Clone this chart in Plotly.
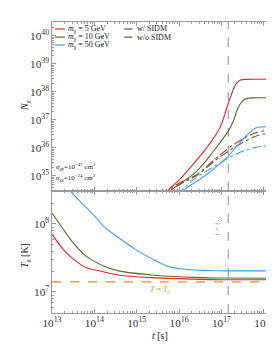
import numpy as np
import plotly.graph_objects as go
from plotly.subplots import make_subplots

# ---------------- data (log10 values) ----------------
# number of captured DM particles N_chi vs time
t_red_sidm = [15.6, 15.72, 16.0, 16.26, 16.65, 16.96, 17.12, 17.22, 17.35, 17.45, 17.6, 18.17]
N_red_sidm = [34.2, 34.46, 34.85, 35.29, 36.0, 36.71, 37.4, 37.85, 38.3, 38.43, 38.45, 38.45]

t_grn_sidm = [15.7, 15.8, 16.1, 16.42, 16.81, 17.16, 17.28, 17.39, 17.5, 17.6, 17.75, 18.17]
N_grn_sidm = [34.2, 34.46, 34.8, 35.17, 35.88, 36.6, 36.95, 37.43, 37.68, 37.77, 37.79, 37.79]

t_blu_sidm = [15.95, 16.07, 16.65, 17.12, 17.5, 17.81, 17.95, 18.17]
N_blu_sidm = [34.25, 34.45, 35.05, 35.64, 36.3, 36.71, 36.75, 36.75]

t_red_nosidm = [15.6, 15.72, 16.05, 16.42, 16.88, 17.35, 17.81, 18.17]
N_red_nosidm = [34.25, 34.46, 34.78, 35.05, 35.64, 36.18, 36.54, 36.65]

t_grn_nosidm = [15.6, 15.78, 16.1, 16.42, 16.88, 17.35, 17.81, 18.17]
N_grn_nosidm = [34.2, 34.46, 34.76, 35.02, 35.58, 36.06, 36.42, 36.54]

t_blu_nosidm = [15.95, 16.34, 16.65, 17.12, 17.5, 17.81, 18.0, 18.17]
N_blu_nosidm = [34.3, 34.87, 35.17, 35.6, 35.88, 36.02, 36.06, 36.06]

# DM temperature T_chi vs time
t_T_red = [13.0, 13.26, 13.49, 13.8, 14.19, 14.57, 15.35, 15.77, 16.5, 17.0, 18.17]
T_red = [7.85, 7.63, 7.49, 7.36, 7.30, 7.25, 7.21, 7.20, 7.185, 7.18, 7.18]

t_T_grn = [13.0, 13.26, 13.49, 13.8, 14.19, 14.57, 15.35, 15.77, 16.5, 17.0, 18.17]
T_grn = [8.16, 7.93, 7.73, 7.53, 7.39, 7.31, 7.25, 7.23, 7.21, 7.205, 7.20]

t_T_blu = [13.0, 13.46, 14.09, 14.19, 14.57, 14.96, 15.35, 15.77, 16.2, 16.7, 17.2, 18.17]
T_blu = [8.84, 8.47, 8.06, 7.98, 7.80, 7.63, 7.49, 7.37, 7.33, 7.315, 7.31, 7.31]

T_C = 10.0 ** 7.147        # core temperature line
T_SUN = 10.0 ** 17.16      # age of the Sun [s]

# axis ranges (log10)
X_RANGE = [13, 18.17]
N_RANGE = [34.46, 40.5]
T_RANGE = [6.69, 8.485]

masses = ["5 GeV", "10 GeV", "50 GeV"]
colors = ["#e8262a", "#5a6b2b", "#3f9dff"]
FONT = "Liberation Serif"
AX = "#9a9a9a"

# ---------------- figure ----------------
fig = make_subplots(rows=2, cols=1, shared_xaxes=True, vertical_spacing=0,
                    row_heights=[169, 122])

def p(v):
    return [10.0 ** a for a in v]

top_solid = [(t_red_sidm, N_red_sidm), (t_grn_sidm, N_grn_sidm), (t_blu_sidm, N_blu_sidm)]
top_dd = [(t_red_nosidm, N_red_nosidm), (t_grn_nosidm, N_grn_nosidm), (t_blu_nosidm, N_blu_nosidm)]
bottom = [(t_T_red, T_red), (t_T_grn, T_grn), (t_T_blu, T_blu)]

# reference lines (drawn first, underneath)
fig.add_trace(go.Scatter(x=[T_SUN, T_SUN], y=p(N_RANGE), mode="lines",
                         line=dict(color="#8a9ab2", width=1.1, dash="dash"),
                         name="t = t_sun", showlegend=False), row=1, col=1)
fig.add_trace(go.Scatter(x=[T_SUN, T_SUN], y=p(T_RANGE), mode="lines",
                         line=dict(color="#8a9ab2", width=1.1, dash="dash"),
                         name="t = t_sun", showlegend=False), row=2, col=1)
fig.add_trace(go.Scatter(x=p(X_RANGE), y=[T_C, T_C], mode="lines",
                         line=dict(color="#f7852e", width=1.2, dash="dash"),
                         name="T = T_c", showlegend=False), row=2, col=1)

for i, c in enumerate(colors):
    t, n = top_dd[i]
    fig.add_trace(go.Scatter(x=p(t), y=p(n), mode="lines", line_shape="spline",
                             line=dict(color=c, width=1.1, dash="dashdot"),
                             name=f"w/o SIDM {masses[i]}", showlegend=False), row=1, col=1)
for i, c in enumerate(colors):
    t, n = top_solid[i]
    fig.add_trace(go.Scatter(x=p(t), y=p(n), mode="lines", line_shape="spline",
                             line=dict(color=c, width=1.1),
                             name=f"w/ SIDM {masses[i]}", showlegend=False), row=1, col=1)
for i, c in enumerate(colors):
    t, T = bottom[i]
    fig.add_trace(go.Scatter(x=p(t), y=p(T), mode="lines", line_shape="spline",
                             line=dict(color=c, width=1.1),
                             name=masses[i], showlegend=False), row=2, col=1)

axis_common = dict(type="log", showline=True, linecolor=AX, linewidth=1, mirror="ticks",
                   ticks="inside", ticklen=4, tickcolor=AX, showgrid=False, zeroline=False,
                   tickmode="linear", tick0=0, dtick=1, exponentformat="power",
                   ticklabeloverflow="allow",
                   minor=dict(ticks="inside", ticklen=2, tickcolor=AX, showgrid=False, dtick="D1"),
                   tickfont=dict(family=FONT, size=9, color="#333"))

fig.update_xaxes(**axis_common, range=X_RANGE)
fig.update_xaxes(showticklabels=False, row=1, col=1)
fig.update_yaxes(**axis_common)
fig.update_yaxes(range=N_RANGE, row=1, col=1)
fig.update_yaxes(range=T_RANGE, row=2, col=1)

ann = []
def A(text, x, y, size=9, color="#222", xanchor="left", xref="paper", yref="paper", angle=0):
    ann.append(dict(text=text, x=x, y=y, xref=xref, yref=yref, xanchor=xanchor, yanchor="middle",
                    showarrow=False, textangle=angle, font=dict(family=FONT, size=size, color=color)))

# axis titles
A("<i>N</i><sub>χ</sub>", -0.118, 0.715, size=10, xanchor="center", angle=-90)
A("<i>T</i><sub>χ</sub> [K]", -0.118, 0.196, size=10, xanchor="center", angle=-90)
A("<i>t</i> [s]", 0.493, -0.079, size=10, xanchor="center")

# legend (drawn manually)
rows_y = [0.976, 0.948, 0.921]
for i, c in enumerate(colors):
    fig.add_shape(type="line", xref="paper", yref="paper", x0=0.0136, x1=0.0588,
                  y0=rows_y[i], y1=rows_y[i], line=dict(color=c, width=1.2))
    A(f"<i>m</i><sub>χ</sub> = {masses[i]}", 0.066, rows_y[i], size=8)
for j, (lbl, dash) in enumerate([("w/ SIDM", "solid"), ("w/o SIDM", "dashdot")]):
    fig.add_shape(type="line", xref="paper", yref="paper", x0=0.330, x1=0.367,
                  y0=rows_y[j], y1=rows_y[j], line=dict(color="#555", width=1.2, dash=dash))
    A(lbl, 0.377, rows_y[j], size=8)

A("<i>σ</i><sub>χp</sub>=10<sup>−47</sup> cm<sup>2</sup>", 0.008, 0.504, size=7)
A("<i>σ</i><sub>χχ</sub>=10<sup>−24</sup> cm<sup>2</sup>", 0.008, 0.464, size=7)

A("<i>T</i> = <i>T</i><sub>c</sub>", 15.55, 7.03, size=8, color="#f7852e", xanchor="center",
  xref="x2", yref="y2")
A("<i>t</i> = <i>t</i><sub>⊙</sub>", 16.93, 7.97, size=8, color="#8a9ab2", xanchor="center",
  xref="x2", yref="y2", angle=-90)

fig.update_layout(width=274, height=345, margin=dict(l=44, r=9, t=14, b=40),
                  paper_bgcolor="white", plot_bgcolor="white", showlegend=False,
                  annotations=ann, font=dict(family=FONT))

fig.write_html("out.html")
